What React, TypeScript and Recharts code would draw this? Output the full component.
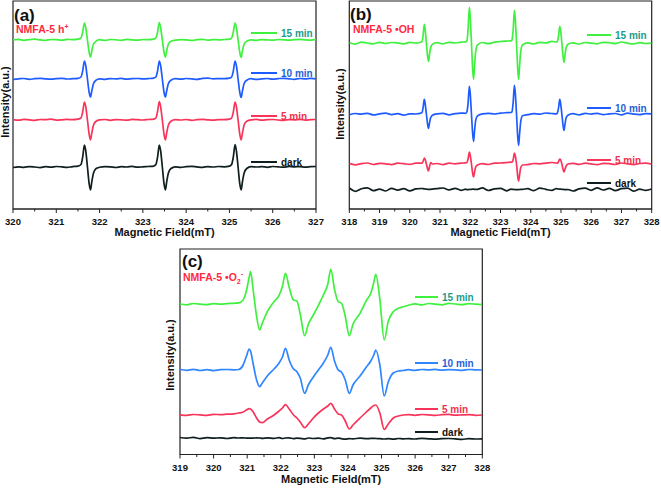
import React from 'react'
import { LineChart, Line, XAxis, YAxis, ReferenceArea } from 'recharts'

const FONT = '"Liberation Sans", Arial, sans-serif'

const GREEN = '#3ff03f'
const BLUE = '#1f5cff'
const BLUE_C = '#2f86ff'
const RED = '#f8345a'
const BLACK = '#0f1e1e'

// ---- panel (a): NMFA-5 h+ (field in mT, intensity relative to each trace baseline)
const fieldA = [
  320, 320.13, 320.25, 320.38, 320.5, 320.63, 320.75, 320.88, 321, 321.13, 321.25, 321.38, 321.5,
  321.57, 321.61, 321.65, 321.68, 321.72, 321.76, 321.79, 321.82, 321.86, 321.92,
  322, 322.13, 322.25, 322.38, 322.5, 322.63, 322.75, 322.88, 323, 323.13, 323.25,
  323.3, 323.34, 323.38, 323.41, 323.45, 323.49, 323.52, 323.55, 323.59, 323.65,
  323.75, 323.88, 324, 324.13, 324.25, 324.38, 324.5, 324.63, 324.75, 324.88, 325,
  325.05, 325.09, 325.13, 325.16, 325.2, 325.24, 325.27, 325.3, 325.34, 325.4,
  325.5, 325.63, 325.75, 325.88, 326, 326.13, 326.25, 326.38, 326.5, 326.63, 326.75, 326.88, 327,
]
const a15 = [
  0.2, 0.6, -0.3, 0.4, 0.8, 0.1, -0.4, 0.5, 0.3, -0.2, 0.6, 0.4, 0.9,
  2, 8, 17, 12.5, 0, -12.5, -17, -11, -4, -1.2,
  0.3, -0.4, 0.5, 0.2, -0.3, 0.6, 0.1, -0.2, 0.5, 0.3, 0.8,
  2, 8, 17.5, 12.5, 0, -12.5, -17, -11, -4, -1.2,
  -0.2, 0.4, 0.1, -0.5, 0.3, 0.6, -0.1, 0.4, 0.2, 0.5, 0.9,
  2, 8, 17, 12.5, 0, -12.5, -17.5, -11, -4, -1.2,
  0.2, -0.3, 0.4, 0.1, -0.2, 0.5, 0.2, -0.1, 0.3, 0.6, 0.1, -0.2, 0.3,
]
const a10 = [
  -0.3, 0.2, 0.5, -0.4, 0.3, 0.6, 0.1, -0.2, 0.4, 0.7, 0, 0.3, 0.6,
  2, 8, 18, 13.5, 0, -13.5, -18, -12, -4.5, -1.2,
  0.2, -0.3, 0.4, 0.1, 0.6, -0.2, 0.3, 0.5, 0.1, 0.4, 0.9,
  2, 8, 18, 13.5, 0, -13.5, -18, -12, -4.5, -1.2,
  0.3, -0.2, 0.5, 0.2, -0.4, 0.6, 0.8, 0.2, 0.4, 0.3, 0.8,
  2, 8, 18, 13.5, 0, -13.5, -18.5, -12, -4.5, -1.2,
  0.3, -0.4, 0.2, 0.5, -0.1, 0.4, 0.7, 0.2, -0.3, 0.5, 0.1, 0.6, 0.2,
]
const a5 = [
  0.4, -0.2, 0.6, 0.1, -0.4, 0.5, 0.3, 0.8, -0.1, 0.2, 0.6, 0.3, 0.8,
  2, 8, 18, 13.5, 0, -14.5, -20, -13, -5, -1.2,
  0.1, 0.5, -0.3, 0.4, 0.2, -0.2, 0.6, 0.3, 0, 0.5, 0.9,
  2, 8.5, 18.5, 13.5, 0, -14.5, -20, -13, -5, -1.2,
  0.4, 0, 0.5, -0.3, 0.3, 0.6, 0.1, -0.2, 0.4, 0.3, 0.8,
  2, 8, 18, 13.5, 0, -14.5, -20, -13, -5, -1.2,
  0.2, 0.6, -0.2, 0.3, 0.5, 0, -0.3, 0.4, 0.2, 0.6, -0.1, 0.3, 0.5,
]
const aDark = [
  -0.5, 0.2, -0.3, 0.4, 0, -0.6, 0.3, -0.2, 0.5, 0.1, -0.4, 0.4, 0.8,
  2.5, 10, 22, 16.5, 0, -17, -23, -15, -6, -1.5,
  -0.3, 0.4, 0.1, -0.5, 0.3, 0, 0.6, -0.2, 0.2, 0.5, 0.9,
  2.5, 10, 22, 16.5, 0, -17, -23, -15, -6, -1.5,
  0.2, -0.4, 0.3, 0.6, 0.1, -0.3, 0.4, 0, 0.5, 0.2, 0.9,
  2.5, 10, 22.5, 16.5, 0, -17, -23, -15, -6, -1.5,
  0.3, 0, 0.4, -0.3, 0.5, 0.1, -0.2, 0.6, 0.2, 0.4, -0.1, 0.3, 0.5,
]
const offsetsA = [169, 130, 89, 42]
const ticksA = [320, 320.5, 321, 321.5, 322, 322.5, 323, 323.5, 324, 324.5, 325, 325.5, 326, 326.5, 327]

// ---- panel (b): NMFA-5 •OH
const fieldB = [
  318, 318.2, 318.4, 318.6, 318.8, 319, 319.2, 319.4, 319.6, 319.8, 320, 320.2,
  320.4, 320.44, 320.48, 320.51, 320.55, 320.59, 320.62, 320.65, 320.69, 320.75,
  320.9, 321.1, 321.3, 321.5, 321.7, 321.85,
  321.89, 321.93, 321.97, 322, 322.04, 322.08, 322.11, 322.14, 322.18, 322.24,
  322.4, 322.6, 322.8, 323, 323.2, 323.35,
  323.38, 323.42, 323.46, 323.49, 323.53, 323.57, 323.6, 323.63, 323.67, 323.73,
  323.9, 324.1, 324.3, 324.5, 324.7, 324.85,
  324.88, 324.92, 324.96, 324.99, 325.03, 325.07, 325.1, 325.13, 325.17, 325.23,
  325.4, 325.6, 325.8, 326, 326.2, 326.4, 326.6, 326.8, 327, 327.2, 327.4, 327.6, 327.8, 328,
]
const b15 = [
  0.5, -0.8, 1.2, 0.3, -0.5, 1, -0.2, 0.8, 0.4, -0.6, 0.9, 0.2,
  1.5, 8, 19, 13.5, 0, -13, -18, -11.5, -4.5, -1,
  0.6, -0.5, 1, 0.3, 1.2, 1.5,
  2.5, 15, 36, 26, 0, -26, -36, -23, -8, -1.5,
  0.8, -0.4, 1.1, 1.8, 2.2, 2.5,
  3.5, 14, 33, 24, 0, -26, -36, -23, -8, -1.5,
  0.5, -0.6, 0.9, 0.4, 2, 1.2,
  2, 7.5, 17, 12.5, 0, -13.5, -19, -12, -4.5, -1,
  0.4, -0.7, 0.8, 0.2, -0.5, 1, 0.6, -0.3, 1.3, 0.1, -0.6, 0.7, -0.2, 0.3,
]
const b10 = [
  -0.5, 0.8, 0.2, 1, -0.6, 0.4, 1.1, -0.3, 0.6, -0.8, 0.5, 0.3,
  1.5, 6.5, 15, 10.5, 0, -10, -14, -9, -3.5, -1,
  0.4, 0.9, -0.5, 0.7, 1.2, 1,
  2.5, 12, 28, 20.5, 0, -19.5, -27, -17, -6, -1.5,
  0.5, 0.9, 0.3, 1.2, 1.6, 1.8,
  2.5, 12.5, 29, 21, 0, -22.5, -31, -20, -7, -1.5,
  -0.4, 0.6, 0.2, 1.3, 0.8, 0.5,
  1.5, 6.5, 15, 10.5, 0, -11.5, -16, -10.5, -3.5, -1,
  0.6, -0.5, 0.9, 0.2, 1, -0.4, 0.5, 0.8, -0.6, 1.1, 0.2, -0.3, 0.7, 0.4,
]
const b5 = [
  0.6, -0.8, 0.4, 1, -0.5, 0.7, 0.2, -0.6, 0.9, 0.3, -0.4, 0.8,
  0.8, 2.5, 6, 4.5, 0, -5, -7, -3, 1.5, 0,
  0.5, -0.6, 0.8, 0.2, 0.9, 1.2,
  1.5, 5.5, 12, 8.5, 0, -9.5, -13, -8.5, -3, -1,
  0.4, -0.5, 0.9, 1, 1.4, 1.8,
  1.5, 4.5, 11, 8, 0, -12.5, -17, -11, -3.5, -1,
  -0.6, 0.5, 0.2, 0.9, 1.5, 1,
  0.8, 2.5, 5, 4, 0, -5.5, -8, -5.5, -2, 0,
  0.7, -0.4, 0.9, 0.1, -0.7, 0.6, 0.3, -0.5, 1, 0.2, -0.6, 0.5, 0.9, -0.2,
]
const bDark = [
  1.5, -1.8, 0.8, 1.6, -1.2, 0.4, -1.5, 1.2, -0.6, 0.9, -1.4, 0.6,
  1, 0.9, 0.7, 0.5, 0.3, 0.2, 0.1, 0.1, 0.2, 0.4,
  0.9, 1.5, -0.4, 1.1, -0.8, 0.3,
  -0.2, -0.1, 0, 0.1, 0.2, 0.3, 0.3, 0.2, 0.1, 0.2,
  1.6, -1, 0.7, 1.2, -1.3, 0.4,
  0.2, 0.1, 0, -0.1, -0.2, -0.2, -0.1, 0, 0.1, 0.2,
  0.8, -1.1, 1.4, 0.2, -0.9, 1,
  0.6, 0.5, 0.4, 0.3, 0.2, 0.1, 0, -0.1, -0.1, 0,
  -1.5, 0.6, 1.3, -0.8, 1.6, -0.5, 1.1, -1.2, 0.9, 1.4, -1.6, 0.3, -0.9, 0.5,
]
const offsetsB = [165.7, 94.7, 45, 19.5]
const ticksB = [318, 318.5, 319, 319.5, 320, 320.5, 321, 321.5, 322, 322.5, 323, 323.5, 324, 324.5, 325, 325.5, 326, 326.5, 327, 327.5, 328]

// ---- panel (c): NMFA-5 •O2-
const fieldC = [
  319, 319.2, 319.4, 319.6, 319.8, 320, 320.2, 320.4, 320.6, 320.75,
  320.88, 320.98, 321.06, 321.1, 321.18, 321.28, 321.37, 321.45, 321.6, 321.8,
  321.95, 322.05, 322.14, 322.25, 322.38, 322.48, 322.58, 322.71, 322.82, 322.97,
  323.12, 323.27, 323.4, 323.49, 323.6, 323.71, 323.81, 323.92, 324.04, 324.15,
  324.36, 324.55, 324.68, 324.77, 324.83, 324.95, 325.08, 325.2, 325.35, 325.5, 325.65,
  325.8, 326, 326.2, 326.4, 326.6, 326.8, 327, 327.2, 327.4, 327.6, 327.8, 328,
]
const c15 = [
  0.3, -0.5, 0.8, 0.2, -0.4, 0.6, 0.1, 0.7, 1, 1.5,
  4.3, 14, 27, 32.6, 14, -12, -25.7, -19, -7.4, 2.6,
  9, 18, 31, 17, 4.3, 3.3, -10, -31.4, -20, -10.7,
  -1, 9.3, 20, 35, 15, 2.6, 1, -12, -31.4, -20,
  -9, 4, 11, 22, 30, 5, -35.7, -17, -7.4, -4, -2.4,
  -1, 0.5, -0.6, 0.8, 0.2, -0.5, 0.9, 0.3, -0.4, 0.6, 0.1, -0.3,
]
const c10 = [
  0.5, -0.3, 0.6, -0.5, 0.4, -0.6, 0.3, 0.5, 0.2, 0.5,
  5, 14, 21, 19, 6, -10, -16.7, -13, -6, 1,
  7, 13, 21.7, 10, 1, -1.7, -8, -23.3, -15, -7,
  0, 7, 15, 22.7, 9, 0, -2.3, -10, -23.3, -15,
  -6, 3, 9, 15, 20, 5, -26, -12, -3, -1, -0.5,
  0.3, -0.4, 0.5, 0.1, 0.6, -0.2, 0.4, 0.2, -0.3, 0.5, 0.1, 0,
]
const c5 = [
  0.2, -0.4, 0.5, 0.1, -0.3, 0.6, 0.4, 0.8, 1.2, 2,
  3, 5, 6.3, 6, 3, -3, -7, -7.7, -4, 0,
  4, 7, 10.3, 6, 0, -3, -7, -12.7, -9, -3,
  2, 6, 9, 11.7, 6, 1, 0, -6, -14, -10,
  -3, 3, 7, 9.5, 10, 2, -14.3, -9, -3, -1, 0,
  0.4, -0.3, 0.5, 0.2, -0.4, 0.3, 0.6, -0.2, 0.1, 0.4, -0.3, 0,
]
const cDark = [
  0.8, 0.2, 0.9, -0.3, 0.6, 0.1, 0.5, -0.2, 0.7, 0.3,
  0.4, 0.2, 0.1, 0.1, 0.2, 0.4, 0.3, 0, 0.4, 0,
  0.6, -0.2, 0.3, 0.5, -0.4, 0.2, 0, -0.6, 0.3, -0.2,
  0.1, -0.5, 0.4, 0.6, -0.3, 0.2, -0.4, -0.8, -0.3, -0.6,
  0.2, -0.4, -0.1, 0, -0.2, -0.3, -0.7, -0.3, -0.8, -0.2, -0.6,
  -0.3, -0.7, -0.1, -0.5, -0.9, -0.4, -0.2, -0.6, -1, -0.4, -0.7, -0.5,
]
const offsetsC = [150.2, 84.5, 39.5, 16.2]
const ticksC = [319, 319.5, 320, 320.5, 321, 321.5, 322, 322.5, 323, 323.5, 324, 324.5, 325, 325.5, 326, 326.5, 327, 327.5, 328]

const legendNames = ['15 min', '10 min', '5 min', 'dark']
const legendText = ['#1b9c8e', '#1f5fd6', '#f0304e', '#111111']

type Trace = { key: string; values: number[]; offset: number; color: string }

function buildRows(field: number[], traces: Trace[]) {
  return field.map((x, i) => {
    const row: Record<string, number> = { x }
    traces.forEach((t) => {
      row[t.key] = t.values[i] + t.offset
    })
    return row
  })
}

function FieldTick(props: any) {
  const { x, y, payload } = props
  const major = Number.isInteger(payload.value)
  return (
    <g>
      <line x1={x} x2={x} y1={y} y2={y + (major ? 4 : 2.5)} stroke="#222" strokeWidth={1} />
      {major && (
        <text x={x} y={y + 16} textAnchor="middle" fontSize={9.5} fontWeight="bold" fill="#111" fontFamily={FONT}>
          {payload.value}
        </text>
      )}
    </g>
  )
}

interface SpectrumProps {
  left: number
  top: number
  width: number
  height: number
  margin: { top: number; right: number; bottom: number; left: number }
  axisHeight: number
  labelOffset: number
  domain: [number, number]
  ticks: number[]
  yMax: number
  field: number[]
  traces: Trace[]
}

function Spectrum({ left, top, width, height, margin, axisHeight, labelOffset, domain, ticks, yMax, field, traces }: SpectrumProps) {
  const rows = buildRows(field, traces)
  return (
    <div style={{ position: 'absolute', left, top }}>
      <LineChart width={width} height={height} data={rows} margin={margin}>
        <XAxis
          type="number"
          dataKey="x"
          domain={domain}
          ticks={ticks}
          interval={0}
          allowDataOverflow
          height={axisHeight}
          tickSize={0}
          tickMargin={0}
          tickLine={false}
          axisLine={{ stroke: '#222', strokeWidth: 1.2 }}
          tick={(p: any) => <FieldTick {...p} />}
          label={{
            value: 'Magnetic Field(mT)',
            position: 'insideBottom',
            offset: labelOffset,
            fontSize: 11,
            fontWeight: 'bold',
            fill: '#111',
            fontFamily: FONT,
          }}
        />
        <YAxis hide type="number" domain={[0, yMax]} allowDataOverflow />
        <ReferenceArea x1={domain[0]} x2={domain[1]} y1={0} y2={yMax} fill="none" stroke="#222" strokeWidth={1.2} />
        {traces.map((t) => (
          <Line
            key={t.key}
            type="monotone"
            dataKey={t.key}
            stroke={t.color}
            strokeWidth={1.7}
            dot={false}
            isAnimationActive={false}
          />
        ))}
      </LineChart>
    </div>
  )
}

function Legend({ x, ys, lineLen, colors }: { x: number; ys: number[]; lineLen: number; colors: string[] }) {
  return (
    <g>
      {ys.map((y, i) => (
        <g key={legendNames[i]}>
          <line x1={x} x2={x + lineLen} y1={y} y2={y} stroke={colors[i]} strokeWidth={2} />
          <text x={x + lineLen + 4} y={y + 3.7} fontSize={10} fontWeight="bold" fill={legendText[i]} fontFamily={FONT}>
            {legendNames[i]}
          </text>
        </g>
      ))}
    </g>
  )
}

export default function App() {
  const colorsAB = [GREEN, BLUE, RED, BLACK]
  const colorsC = [GREEN, BLUE_C, RED, BLACK]
  const tracesA: Trace[] = [
    { key: 'dark', values: aDark, offset: offsetsA[3], color: BLACK },
    { key: 'm5', values: a5, offset: offsetsA[2], color: RED },
    { key: 'm10', values: a10, offset: offsetsA[1], color: BLUE },
    { key: 'm15', values: a15, offset: offsetsA[0], color: GREEN },
  ]
  const tracesB: Trace[] = [
    { key: 'dark', values: bDark, offset: offsetsB[3], color: BLACK },
    { key: 'm5', values: b5, offset: offsetsB[2], color: RED },
    { key: 'm10', values: b10, offset: offsetsB[1], color: BLUE },
    { key: 'm15', values: b15, offset: offsetsB[0], color: GREEN },
  ]
  const tracesC: Trace[] = [
    { key: 'dark', values: cDark, offset: offsetsC[3], color: BLACK },
    { key: 'm5', values: c5, offset: offsetsC[2], color: RED },
    { key: 'm10', values: c10, offset: offsetsC[1], color: BLUE_C },
    { key: 'm15', values: c15, offset: offsetsC[0], color: GREEN },
  ]

  return (
    <div style={{ position: 'absolute', left: 0, top: 0, width: 661, height: 488, background: '#fff', fontFamily: FONT }}>
      <Spectrum
        left={0} top={0} width={330} height={240}
        margin={{ top: 1, right: 14, bottom: 0, left: 13 }}
        axisHeight={31} labelOffset={4}
        domain={[320, 327]} ticks={ticksA} yMax={208}
        field={fieldA} traces={tracesA}
      />
      <Spectrum
        left={330} top={0} width={331} height={240}
        margin={{ top: 1, right: 9.3, bottom: 0, left: 19.3 }}
        axisHeight={31} labelOffset={4}
        domain={[318, 328]} ticks={ticksB} yMax={208}
        field={fieldB} traces={tracesB}
      />
      <Spectrum
        left={160} top={240} width={340} height={248}
        margin={{ top: 9, right: 17.7, bottom: 0, left: 20 }}
        axisHeight={33.5} labelOffset={5}
        domain={[319, 328]} ticks={ticksC} yMax={205.5}
        field={fieldC} traces={tracesC}
      />
      <svg width={661} height={488} style={{ position: 'absolute', left: 0, top: 0, pointerEvents: 'none' }} fontFamily={FONT}>
        {/* panel a */}
        <text x={14} y={21} fontSize={17} fontWeight="bold" fill="#111">(a)</text>
        <text x={16} y={33} fontSize={10.5} fontWeight="bold" fill="#ff2a40">
          NMFA-5 h<tspan dy={-4} fontSize={7}>+</tspan>
        </text>
        <text x={9} y={102} fontSize={11} fontWeight="bold" fill="#111" textAnchor="middle" transform="rotate(-90 9 102)">Intensity(a.u.)</text>
        <Legend x={251} ys={[33, 73, 116, 162]} lineLen={26} colors={colorsAB} />

        {/* panel b */}
        <text x={350} y={20} fontSize={17} fontWeight="bold" fill="#111">(b)</text>
        <text x={353} y={33} fontSize={10.5} fontWeight="bold" fill="#ff2a40">NMFA-5 •OH</text>
        <text x={344} y={104} fontSize={11} fontWeight="bold" fill="#111" textAnchor="middle" transform="rotate(-90 344 104)">Intensity(a.u.)</text>
        <Legend x={587} ys={[35, 108, 160, 183]} lineLen={24} colors={colorsAB} />

        {/* panel c */}
        <text x={182} y={267} fontSize={17} fontWeight="bold" fill="#111">(c)</text>
        <text x={183} y={281} fontSize={10.5} fontWeight="bold" fill="#ff2a40">
          NMFA-5 •O<tspan dy={3} fontSize={7}>2</tspan><tspan dy={-8} fontSize={7}>-</tspan>
        </text>
        <text x={174} y={355} fontSize={11} fontWeight="bold" fill="#111" textAnchor="middle" transform="rotate(-90 174 355)">Intensity(a.u.)</text>
        <Legend x={415} ys={[297, 363, 409, 432]} lineLen={23} colors={colorsC} />
      </svg>
    </div>
  )
}
